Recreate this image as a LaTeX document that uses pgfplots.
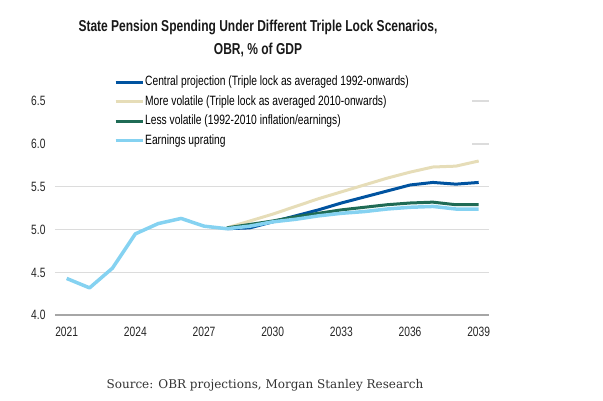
\documentclass[border=0pt]{standalone}
\usepackage{fontspec}
\setmainfont{Liberation Sans}[FakeStretch=0.76]
\newfontfamily\srcfont{DejaVu Serif}
\usepackage{pgfplots}
\pgfplotsset{compat=1.18}
\definecolor{cCentral}{HTML}{0053A0}
\definecolor{cVol}{HTML}{E6DDB8}
\definecolor{cLess}{HTML}{1F6B55}
\definecolor{cEarn}{HTML}{85D2F1}
\definecolor{cGrid}{HTML}{DCDCDC}
\definecolor{cAxis}{HTML}{A6A6A6}
\begin{document}
\begin{tikzpicture}
\useasboundingbox (0pt,0pt) rectangle (603pt,400pt);
\begin{axis}[
  at={(55pt,84.7pt)}, anchor=south west, scale only axis,
  width=434pt, height=214.3pt,
  xmin=2020.49, xmax=2039.45, ymin=4, ymax=6.5,
  xtick={2021,2024,...,2039}, ytick={4,4.5,...,6.5},
  separate axis lines,
  axis x line*=bottom, axis y line*=left,
  x axis line style={draw=cAxis, line width=2pt, -},
  y axis line style={draw=none},
  major tick length=0pt,
  ymajorgrids, grid style={line width=1.5pt, draw=cGrid},
  tick label style={font=\fontsize{13.5}{16}\selectfont, text=black!85},
  /pgf/number format/assume math mode=true,
  xticklabel style={/pgf/number format/1000 sep={}, yshift=-8pt},
  yticklabel style={/pgf/number format/fixed, /pgf/number format/fixed zerofill, /pgf/number format/precision=1, xshift=-6pt},
  legend style={at={(axis description cs:-0.007,1.140)}, anchor=north west,
    draw=none, fill=white, inner xsep=62pt, inner ysep=4pt,
    font=\fontsize{13.5}{16}\selectfont, row sep=5pt, column sep=0pt,
    nodes={inner sep=1pt, text height=9.5pt, text depth=3pt}},
  legend cell align=left,
  legend image code/.code={\draw[#1, line width=3pt] (0pt,0pt) -- (27pt,0pt);},
  every axis plot/.append style={line width=3pt, line join=round},
]
\addplot[cCentral, line width=3pt] coordinates {
(2028,5.01) (2029,5.02) (2030,5.09) (2031,5.16) (2032,5.23) (2033,5.31) (2034,5.38) (2035,5.45) (2036,5.52) (2037,5.55) (2038,5.53) (2039,5.55)};
\addlegendentry{Central projection (Triple lock as averaged 1992-onwards)}
\addplot[cVol, line width=3pt] coordinates {
(2028,5.02) (2029,5.10) (2030,5.18) (2031,5.27) (2032,5.36) (2033,5.44) (2034,5.52) (2035,5.60) (2036,5.67) (2037,5.73) (2038,5.74) (2039,5.80)};
\addlegendentry{More volatile (Triple lock as averaged 2010-onwards)}
\addplot[cLess, line width=3pt] coordinates {
(2028,5.02) (2029,5.06) (2030,5.10) (2031,5.15) (2032,5.19) (2033,5.23) (2034,5.26) (2035,5.29) (2036,5.31) (2037,5.32) (2038,5.29) (2039,5.29)};
\addlegendentry{Less volatile (1992-2010 inflation/earnings)}
\addplot[cEarn, line width=3.5pt] coordinates {
(2021,4.43) (2022,4.32) (2023,4.55) (2024,4.95) (2025,5.07) (2026,5.13) (2027,5.04) (2028,5.01) (2029,5.04) (2030,5.09) (2031,5.12) (2032,5.16) (2033,5.19) (2034,5.21) (2035,5.24) (2036,5.26) (2037,5.27) (2038,5.24) (2039,5.24)};
\addlegendentry{Earnings uprating}
\end{axis}
\node[font=\bfseries\fontsize{15.8}{23}\selectfont, align=center, text=black!90] at (258pt,362pt) {State Pension Spending Under Different Triple Lock Scenarios,\\OBR, \% of GDP};
\node[font=\srcfont\fontsize{12}{14}\selectfont, text=black!80] at (265pt,15pt) {Source: OBR projections, Morgan Stanley Research};
\end{tikzpicture}
\end{document}
